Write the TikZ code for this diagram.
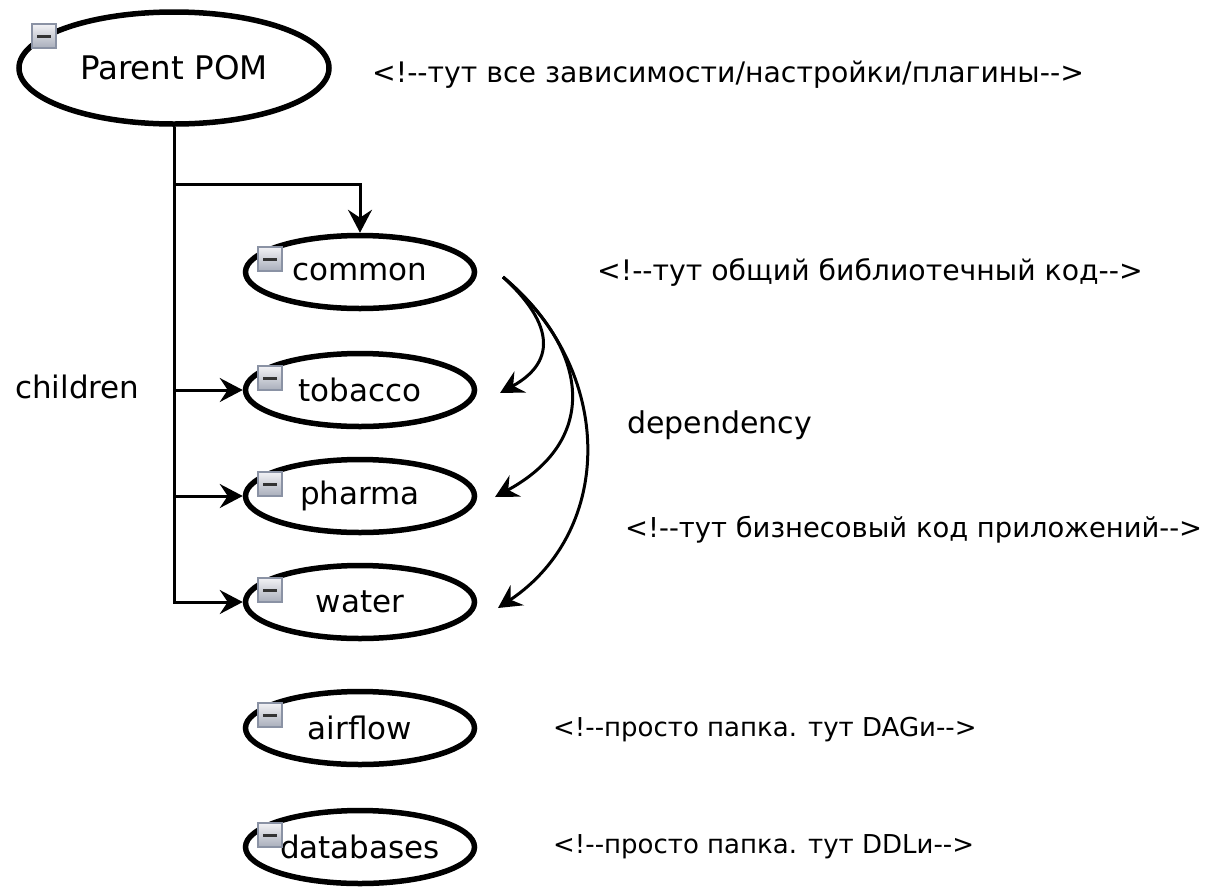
\documentclass[tikz,border=0pt]{standalone}
\usepackage{fontspec}
\setmainfont{DejaVu Sans}[Ligatures=TeXOff]
\usetikzlibrary{shapes.geometric,arrows.meta}

\definecolor{iconedge}{HTML}{8A92A4}
\definecolor{icontop}{HTML}{F2F2F5}
\definecolor{iconbot}{HTML}{A9AEBB}

\tikzset{
  module/.style={ellipse, draw=black, line width=5.5pt, fill=white,
    minimum width=229pt, minimum height=73pt, inner sep=0pt,
    font=\fontsize{31}{35}\selectfont},
  rootmodule/.style={module, minimum width=310pt, minimum height=112pt,
    font=\fontsize{32.5}{36}\selectfont},
  foldicon/.style={rectangle, draw=iconedge, line width=1.5pt,
    top color=icontop, bottom color=iconbot,
    minimum size=24pt, inner sep=0pt,
    path picture={\fill[black!80] ([xshift=-7pt,yshift=-1.5pt]path picture bounding box.center)
      rectangle ([xshift=7pt,yshift=1.5pt]path picture bounding box.center);}},
  note/.style={anchor=west, inner sep=0pt, font=\fontsize{28.3}{32}\selectfont},
  link/.style={line width=3pt, -{Stealth[length=23pt,width=24pt,inset=8pt]}},
}

\begin{document}
\begin{tikzpicture}[x=1pt,y=-1pt]
  \useasboundingbox (0,0) rectangle (1212,887);

  % modules
  \node[rootmodule] (pp) at (174,68) {Parent POM};
  \node[module] (common)  at (360,272) {common};
  \node[module] (tobacco) at (360,390) {tobacco};
  \node[module] (pharma)  at (360,496) {pharma};
  \node[module] (water)   at (360,602) {water};
  \node[module] (airflow) at (360,728) {airflow};
  \node[module] (dbs)     at (360,847) {databases};

  % collapse markers
  \node[foldicon] (ipp) at (44,36) {};
  \node[foldicon] (icommon)  at (270,259) {};
  \node[foldicon] (itobacco) at (270,378) {};
  \node[foldicon] (ipharma)  at (270,484) {};
  \node[foldicon] (iwater)   at (270,590) {};
  \node[foldicon] (iairflow) at (270,715) {};
  \node[foldicon] (idbs)     at (270,835) {};

  % parent -> children tree
  \coordinate (j0) at (pp.south |- 0,184);
  \draw[link] (pp.south) |- (water.west);
  \draw[link] (j0) -| (common.north);
  \draw[link] (pp.south |- tobacco.west) -- (tobacco.west);
  \draw[link] (pp.south |- pharma.west) -- (pharma.west);

  % dependency curves
  \coordinate (ds) at (503,277);
  \coordinate (dt) at (500,393);
  \coordinate (dp) at (495,497);
  \coordinate (dw) at (498,608);
  \draw[link] (ds) .. controls (550,320) and (560,360) .. (dt);
  \draw[link] (ds) .. controls (590,350) and (600,440) .. (dp);
  \draw[link] (ds) .. controls (615,370) and (615,530) .. (dw);

  % labels
  \node[note, font=\fontsize{31}{35}\selectfont] (lchildren) at (15,387) {children};
  \node[note, font=\fontsize{30}{34}\selectfont] (ldep) at (627,425) {dependency};
  \node[note] (n1) at (372,75) {<!--тут все зависимости/настройки/плагины-->};
  \node[note] (n2) at (597,272) {<!--тут общий библиотечный код-->};
  \node[note, font=\fontsize{27.4}{31}\selectfont] (n3) at (625,530) {<!--тут бизнесовый код приложений-->};
  \node[note, font=\fontsize{26}{30}\selectfont] (n4) at (553,730) {<!--просто папка. тут DAGи-->};
  \node[note, font=\fontsize{26}{30}\selectfont] (n5) at (553,847) {<!--просто папка. тут DDLи-->};
\end{tikzpicture}
\end{document}
